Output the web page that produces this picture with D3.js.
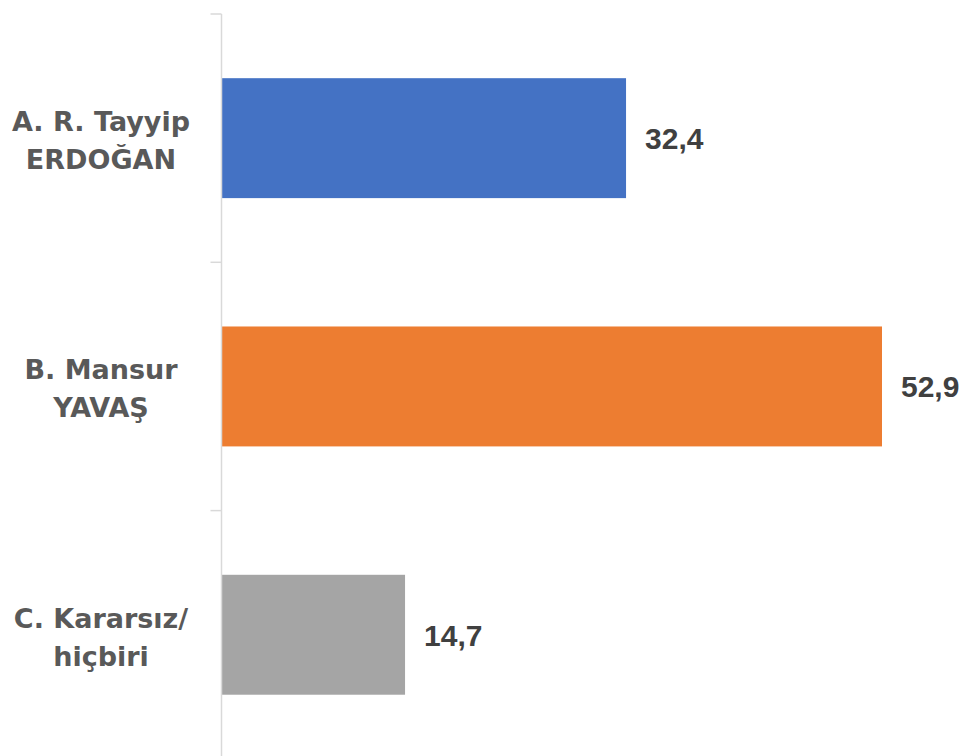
<!DOCTYPE html>
<html>
<head>
<meta charset="utf-8">
<script src="https://cdn.jsdelivr.net/npm/d3@7"></script>
<style>
	html, body { margin: 0; padding: 0; background: #fff; }
	svg { display: block; }
</style>
</head>
<body>
<svg id="chart"></svg>
<script>
// category labels (two lines each), values and colours
const categories = ["A", "B", "C"];
const labelLines = [
	["A. R. Tayyip", "ERDOĞAN"],
	["B. Mansur", "YAVAŞ"],
	["C. Kararsız/", "hiçbiri"],
];
const values = [32.4, 52.9, 14.7];
const barColors = ["#4472c4", "#ed7d31", "#a5a5a5"];

const width = 965;
const height = 756;
const margin = { top: 14, left: 221.5 };

const svg = d3.select("#chart").attr("width", width).attr("height", height);

const x = d3.scaleLinear().domain([0, 52.9]).range([margin.left, 882]);
const y = d3
	.scaleBand()
	.domain(categories)
	.range([margin.top, margin.top + 248.3 * 3])
	.paddingInner(0.517)
	.paddingOuter(0.2585);

// bars
svg
	.append("g")
	.selectAll("rect")
	.data(categories)
	.enter()
	.append("rect")
	.attr("x", x(0) + 0.5)
	.attr("y", (d) => y(d))
	.attr("width", (d, i) => x(values[i]) - x(0) - 0.5)
	.attr("height", y.bandwidth())
	.style("fill", (d, i) => barColors[i]);

// category axis: vertical line plus ticks at band boundaries
const axis = svg.append("g");
const step = y.step();
const y0 = y.range()[0];
axis
	.append("line")
	.attr("x1", margin.left)
	.attr("x2", margin.left)
	.attr("y1", y0)
	.attr("y2", y0 + step * 3)
	.style("stroke", "#d9d9d9")
	.style("stroke-width", "1.5px");
axis
	.selectAll("line.tick")
	.data(d3.range(4))
	.enter()
	.append("line")
	.attr("class", "tick")
	.attr("x1", margin.left - 11)
	.attr("x2", margin.left)
	.attr("y1", (i) => y0 + step * i)
	.attr("y2", (i) => y0 + step * i)
	.style("stroke", "#d9d9d9")
	.style("stroke-width", "1.5px");

// category labels
const labels = svg
	.append("g")
	.selectAll("text")
	.data(categories)
	.enter()
	.append("text")
	.attr("text-anchor", "middle")
	.attr("x", 101)
	.attr("y", (d) => y(d) + y.bandwidth() / 2)
	.style("font-family", "'DejaVu Sans', sans-serif")
	.style("font-weight", "700")
	.style("font-size", "27px")
	.style("fill", "#595959");

labels.each(function (d, i) {
	const t = d3.select(this);
	labelLines[i].forEach((line, k) => {
		t.append("tspan")
			.attr("x", 101)
			.attr("dy", k === 0 ? "-0.26em" : "1.4em")
			.text(line);
	});
});

// value labels
svg
	.append("g")
	.selectAll("text")
	.data(categories)
	.enter()
	.append("text")
	.attr("x", (d, i) => x(values[i]) + 19)
	.attr("y", (d) => y(d) + y.bandwidth() / 2)
	.attr("dy", "0.36em")
	.text((d, i) => d3.format(".1f")(values[i]).replace(".", ","))
	.style("font-family", "'Liberation Sans', Arial, sans-serif")
	.style("font-weight", "700")
	.style("font-size", "30px")
	.style("fill", "#404040");
</script>
</body>
</html>
